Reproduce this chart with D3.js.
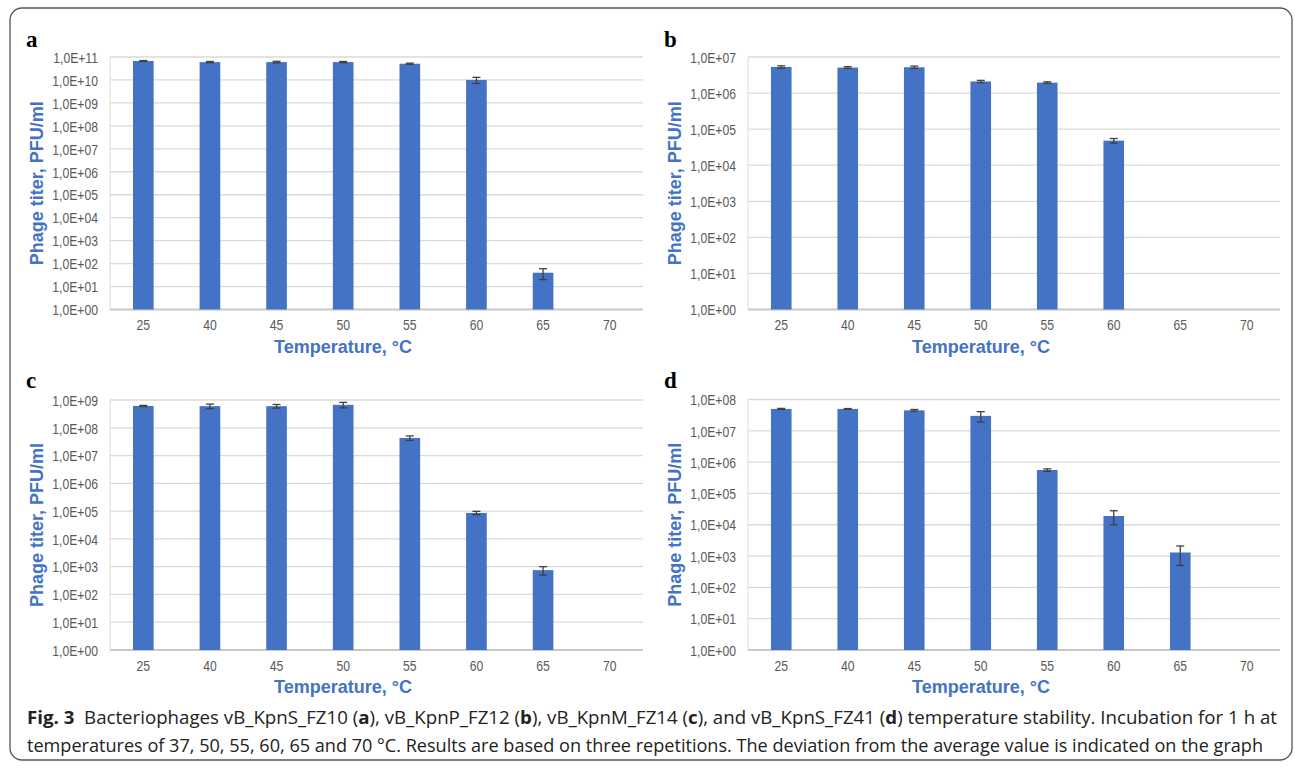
<!DOCTYPE html>
<html lang="en">

<head>
  <meta charset="UTF-8">
  <title>Phage temperature stability</title>
  <style>
    body { margin: 0; background: #fff; }
  </style>
</head>

<body>
  <svg id="svg"></svg>

  <script src="https://d3js.org/d3.v7.min.js"></script>
  <script>
    // temperatures on the x axis (°C)
    const temps = ['25', '40', '45', '50', '55', '60', '65', '70']

    // phage titer, PFU/ml (null = no plaques, no bar)
    const titerA = [6.7e10, 6.0e10, 6.0e10, 6.0e10, 5.1e10, 1.0e10, 40, null]
    const errA = [0.3e10, 0.4e10, 0.5e10, 0.4e10, 0.3e10, 0.3e10, 20, null]

    const titerB = [5.3e6, 5.1e6, 5.2e6, 2.1e6, 1.95e6, 4.8e4, null, null]
    const errB = [0.4e6, 0.3e6, 0.4e6, 0.15e6, 0.1e6, 0.7e4, null, null]

    const titerC = [6.1e8, 6.0e8, 6.0e8, 6.7e8, 4.3e7, 8.6e4, 750, null]
    const errC = [0.3e8, 1.1e8, 0.9e8, 1.5e8, 0.8e7, 1.2e4, 250, null]

    const titerD = [5.0e7, 5.0e7, 4.5e7, 3.0e7, 5.6e5, 1.9e4, 1.3e3, null]
    const errD = [0.2e7, 0.15e7, 0.3e7, 1.1e7, 0.5e5, 0.9e4, 0.8e3, null]

    // top decade of each panel's y axis
    const maxExpA = 11, maxExpB = 7, maxExpC = 9, maxExpD = 8

    const W = 1295, H = 768
    const blue = '#4472C4'
    const squeeze = 0.84   // tick labels are narrow in the figure

    const svg = d3.select('#svg').attr('width', W).attr('height', H)

    svg.append('rect').attr('width', W).attr('height', H).attr('fill', '#fff')

    // outer frame
    svg.append('rect')
      .attr('x', 10).attr('y', 8)
      .attr('width', 1282).attr('height', 752)
      .attr('rx', 12)
      .attr('fill', 'none')
      .attr('stroke', '#555')
      .attr('stroke-width', 1.3)

    const panels = [
      { letter: 'a', titer: titerA, err: errA, maxExp: maxExpA, x0: 110, x1: 643, y0: 57, y1: 309.5, lx: 26, ly: 47 },
      { letter: 'b', titer: titerB, err: errB, maxExp: maxExpB, x0: 748, x1: 1280, y0: 57, y1: 309.5, lx: 664, ly: 47 },
      { letter: 'c', titer: titerC, err: errC, maxExp: maxExpC, x0: 110, x1: 643, y0: 400, y1: 650, lx: 26, ly: 388 },
      { letter: 'd', titer: titerD, err: errD, maxExp: maxExpD, x0: 748, x1: 1280, y0: 399.5, y1: 650, lx: 664, ly: 388 }
    ]

    panels.forEach(p => {
      const g = svg.append('g')

      const xScale = d3.scaleBand()
        .domain(temps)
        .range([p.x0, p.x1])
        .paddingInner(0.69)
        .paddingOuter(0.345)

      const yScale = d3.scaleLog()
        .domain([1, Math.pow(10, p.maxExp)])
        .range([p.y1, p.y0])

      const ticks = d3.range(0, p.maxExp + 1).map(k => Math.pow(10, k))

      // gridlines
      g.selectAll('.grid')
        .data(ticks)
        .enter()
        .append('line')
        .attr('x1', p.x0).attr('x2', p.x1)
        .attr('y1', d => yScale(d)).attr('y2', d => yScale(d))
        .attr('stroke', d => d === 1 ? '#c8c8c8' : '#dadada')
        .attr('stroke-width', d => d === 1 ? 1.8 : 1.3)

      // left axis line
      g.append('line')
        .attr('x1', p.x0).attr('x2', p.x0)
        .attr('y1', p.y0).attr('y2', p.y1)
        .attr('stroke', '#dadada')
        .attr('stroke-width', 1)

      // y axis labels
      const yAxis = g.append('g')
        .attr('transform', `translate(${p.x0},0)`)
        .call(d3.axisLeft(yScale)
          .tickValues(ticks)
          .tickSize(0)
          .tickFormat(d => '1,0E+' + d3.format('02d')(Math.round(Math.log10(d)))))
      yAxis.select('.domain').remove()
      yAxis.selectAll('text')
        .attr('x', -12 / squeeze)
        .attr('dy', '0.36em')
        .attr('transform', `scale(${squeeze},1)`)
        .attr('fill', '#595959')
        .style('font-family', "'Liberation Sans', Arial, sans-serif")
        .style('font-size', '14.5px')

      // x axis labels
      const xAxis = g.append('g')
        .attr('transform', `translate(0,${p.y1})`)
        .call(d3.axisBottom(xScale).tickSize(0).tickPadding(0))
      xAxis.select('.domain').remove()
      xAxis.selectAll('text')
        .attr('y', 21)
        .attr('dy', 0)
        .attr('transform', `scale(${squeeze},1)`)
        .attr('fill', '#595959')
        .style('font-family', "'Liberation Sans', Arial, sans-serif")
        .style('font-size', '14.5px')

      const rows = temps.map((t, i) => ({ t: t, v: p.titer[i], e: p.err[i] }))
        .filter(d => d.v !== null)

      // bars
      g.selectAll('.bar')
        .data(rows)
        .enter()
        .append('rect')
        .attr('x', d => xScale(d.t))
        .attr('width', xScale.bandwidth())
        .attr('y', d => yScale(d.v))
        .attr('height', d => p.y1 - yScale(d.v))
        .attr('fill', blue)

      // error bars
      const cap = 4
      const eb = g.selectAll('.err')
        .data(rows.filter(d => d.e))
        .enter()
        .append('g')
        .attr('stroke', '#404040')
        .attr('stroke-width', 1.3)
      const cx = d => xScale(d.t) + xScale.bandwidth() / 2
      const hi = d => yScale(d.v + d.e)
      const lo = d => yScale(Math.max(1, d.v - d.e))
      eb.append('line').attr('x1', cx).attr('x2', cx).attr('y1', hi).attr('y2', lo)
      eb.append('line').attr('x1', d => cx(d) - cap).attr('x2', d => cx(d) + cap).attr('y1', hi).attr('y2', hi)
      eb.append('line').attr('x1', d => cx(d) - cap).attr('x2', d => cx(d) + cap).attr('y1', lo).attr('y2', lo)

      // axis titles
      g.append('text')
        .attr('x', p.x0 + 233)
        .attr('y', p.y1 + 43)
        .attr('text-anchor', 'middle')
        .attr('fill', blue)
        .style('font-family', "'Liberation Sans', Arial, sans-serif")
        .style('font-weight', 'bold')
        .style('font-size', '18px')
        .text('Temperature, °C')

      g.append('text')
        .attr('transform', `translate(${p.x0 - 67},${(p.y0 + p.y1) / 2}) rotate(-90)`)
        .attr('text-anchor', 'middle')
        .attr('fill', blue)
        .style('font-family', "'Liberation Sans', Arial, sans-serif")
        .style('font-weight', 'bold')
        .style('font-size', '18px')
        .text('Phage titer, PFU/ml')

      // panel letter
      g.append('text')
        .attr('x', p.lx)
        .attr('y', p.ly)
        .style('font-family', "'Liberation Serif', 'Times New Roman', serif")
        .style('font-weight', 'bold')
        .style('font-size', '23px')
        .text(p.letter)
    })

    // figure caption
    const capFont = "'Liberation Sans Narrow', 'Open Sans', 'Liberation Sans', sans-serif"
    const line1 = svg.append('text')
      .attr('x', 27).attr('y', 724)
      .attr('textLength', 1250)
      .attr('lengthAdjust', 'spacingAndGlyphs')
      .attr('fill', '#222')
      .style('font-family', capFont)
      .style('font-size', '17.5px')
    line1.append('tspan').style('font-weight', 'bold').text('Fig. 3')
    line1.append('tspan').text('\u00a0 Bacteriophages vB_KpnS_FZ10 (')
    line1.append('tspan').style('font-weight', 'bold').text('a')
    line1.append('tspan').text('), vB_KpnP_FZ12 (')
    line1.append('tspan').style('font-weight', 'bold').text('b')
    line1.append('tspan').text('), vB_KpnM_FZ14 (')
    line1.append('tspan').style('font-weight', 'bold').text('c')
    line1.append('tspan').text('), and vB_KpnS_FZ41 (')
    line1.append('tspan').style('font-weight', 'bold').text('d')
    line1.append('tspan').text(') temperature stability. Incubation for 1 h at')

    svg.append('text')
      .attr('x', 27).attr('y', 752)
      .attr('textLength', 1236)
      .attr('lengthAdjust', 'spacingAndGlyphs')
      .attr('fill', '#222')
      .style('font-family', capFont)
      .style('font-size', '17.5px')
      .text('temperatures of 37, 50, 55, 60, 65 and 70 °C. Results are based on three repetitions. The deviation from the average value is indicated on the graph')
  </script>
</body>

</html>
